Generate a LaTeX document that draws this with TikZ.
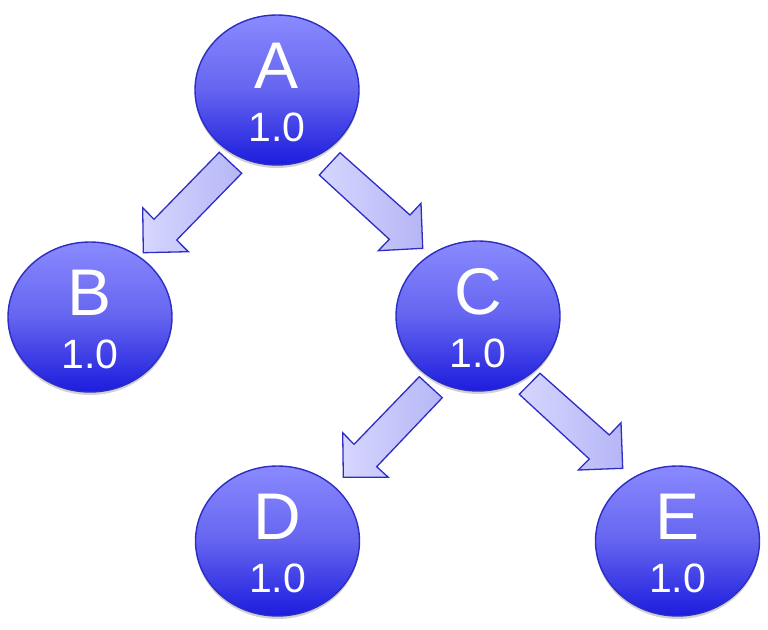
\documentclass[tikz,border=0pt]{standalone}
\usepackage{fontspec}
\setmainfont{Liberation Sans}
\usetikzlibrary{shapes.geometric,shadows}
\definecolor{ntop}{RGB}{138,138,255}
\definecolor{nmid}{RGB}{100,100,240}
\definecolor{nbot}{RGB}{28,28,222}
\definecolor{nline}{RGB}{45,45,195}
\definecolor{aone}{RGB}{214,214,255}
\definecolor{atwo}{RGB}{182,182,246}
\begin{document}
\begin{tikzpicture}[x=1pt,y=-1pt,
  vnode/.style={ellipse,minimum width=164pt,minimum height=150pt,inner sep=0pt,
    draw=nline,line width=1.4pt,top color=ntop,bottom color=nbot,middle color=nmid,
    drop shadow={shadow xshift=0pt,shadow yshift=-3pt,opacity=0.18,fill=black}},
  letter/.style={anchor=base,text=white,inner sep=0pt,font=\fontsize{66}{66}\selectfont},
  weight/.style={anchor=base,text=white,inner sep=0pt,font=\fontsize{41}{41}\selectfont},
  blockarrow/.style={draw=nline,line width=1.3pt,line join=miter,left color=aone,right color=atwo}]
\useasboundingbox (0,0) rectangle (768,629);
\node[vnode] (A) at (277,90) {};
\node[vnode] (B) at (90,317) {};
\node[vnode] (C) at (478,316) {};
\node[vnode] (D) at (277.5,541) {};
\node[vnode] (E) at (677.5,541) {};
\foreach \n/\t in {A/A,B/B,C/C,D/D,E/E}{
  \node[letter] (\n l) at ([yshift=2pt]\n.center) {\t};
  \node[weight] (\n w) at ([yshift=-51pt]\n.center) {1.0};
}
% A -> B
\path[blockarrow] (219.3,152.3) -- (241.7,173.3) -- (176.7,240) -- (188.3,251.7)
  -- (143.3,252.7) -- (142.7,207.7) -- (154,219.3) -- cycle;
% A -> C
\path[blockarrow] (340,152.7) -- (319.3,175) -- (389.3,239.3) -- (378.3,250.7)
  -- (422.7,248.3) -- (421,203.3) -- (410,215) -- cycle;
% C -> D
\path[blockarrow] (419.3,376.7) -- (442.3,397.7) -- (376.7,466.7) -- (388.3,477.3)
  -- (343.3,477.3) -- (342.7,432.7) -- (354,444.3) -- cycle;
% C -> E
\path[blockarrow] (540,373.3) -- (519.3,394.3) -- (589.3,459) -- (578.3,470)
  -- (622.7,468.3) -- (621,422.7) -- (609.3,435) -- cycle;
\end{tikzpicture}
\end{document}
